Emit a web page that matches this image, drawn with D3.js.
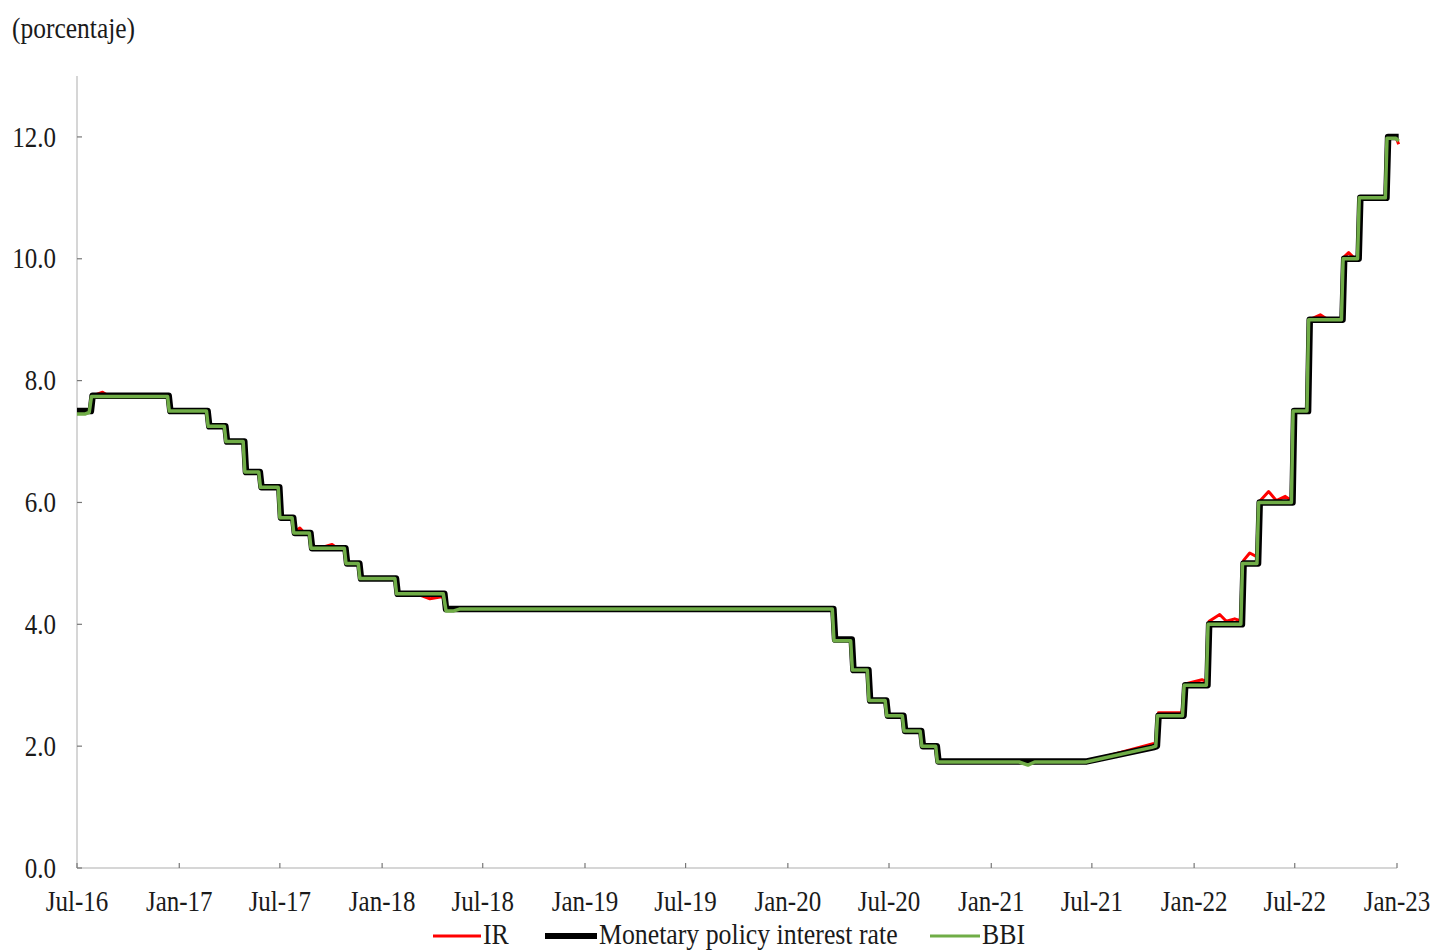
<!DOCTYPE html>
<html>
<head>
<meta charset="utf-8">
<script src="https://cdn.jsdelivr.net/npm/d3@7"></script>
<style>
  html, body { margin: 0; padding: 0; background: #fff; }
  svg { display: block; }
  text { font-family: "Liberation Serif", "Times New Roman", serif; fill: #1a1a1a; }
</style>
</head>
<body>
<svg id="chart" width="1433" height="952"></svg>
<script>
// ---------------- DATA ----------------
const unitLabel = "(porcentaje)";
const seriesNames = ["IR", "Monetary policy interest rate", "BBI"];
const yTickValues = [0, 2, 4, 6, 8, 10, 12];
const xTickLabels = ["Jul-16","Jan-17","Jul-17","Jan-18","Jul-18","Jan-19","Jul-19","Jan-20","Jul-20","Jan-21","Jul-21","Jan-22","Jul-22","Jan-23"];

// Monetary policy interest rate (date, %)
const policyRate = [
  ["2016-07-01",7.50],["2016-07-26",7.50],["2016-07-29",7.75],
  ["2016-12-13",7.75],["2016-12-16",7.50],
  ["2017-02-21",7.50],["2017-02-24",7.25],
  ["2017-03-25",7.25],["2017-03-28",7.00],
  ["2017-04-28",7.00],["2017-05-01",6.50],
  ["2017-05-26",6.50],["2017-05-29",6.25],
  ["2017-06-30",6.25],["2017-07-03",5.75],
  ["2017-07-25",5.75],["2017-07-28",5.50],
  ["2017-08-25",5.50],["2017-08-28",5.25],
  ["2017-10-27",5.25],["2017-10-30",5.00],
  ["2017-11-21",5.00],["2017-11-24",4.75],
  ["2018-01-26",4.75],["2018-01-29",4.50],
  ["2018-04-23",4.50],["2018-04-26",4.25],
  ["2020-03-23",4.25],["2020-03-26",3.75],
  ["2020-04-25",3.75],["2020-04-28",3.25],
  ["2020-05-25",3.25],["2020-05-28",2.75],
  ["2020-06-26",2.75],["2020-06-29",2.50],
  ["2020-07-27",2.50],["2020-07-30",2.25],
  ["2020-08-28",2.25],["2020-08-31",2.00],
  ["2020-09-25",2.00],["2020-09-28",1.75],
  ["2021-06-22",1.75],
  ["2021-10-19",1.98],
  ["2021-10-26",2.00],["2021-10-29",2.50],
  ["2021-12-13",2.50],["2021-12-16",3.00],
  ["2022-01-25",3.00],["2022-01-28",4.00],
  ["2022-03-28",4.00],["2022-03-31",5.00],
  ["2022-04-26",5.00],["2022-04-29",6.00],
  ["2022-06-27",6.00],["2022-06-30",7.50],
  ["2022-07-25",7.50],["2022-07-28",9.00],
  ["2022-09-25",9.00],["2022-09-28",10.00],
  ["2022-10-24",10.00],["2022-10-27",11.00],
  ["2022-12-13",11.00],["2022-12-16",12.00],
  ["2023-01-04",12.00]
];

// IR (date, %)
const irRate = [
  ["2016-07-01",7.50],["2016-07-26",7.50],["2016-07-29",7.75],
  ["2016-08-16",7.81],["2016-08-26",7.75],
  ["2016-12-13",7.75],["2016-12-16",7.50],
  ["2017-02-21",7.50],["2017-02-24",7.25],
  ["2017-03-25",7.25],["2017-03-28",7.00],
  ["2017-04-28",7.00],["2017-05-01",6.50],
  ["2017-05-26",6.50],["2017-05-29",6.25],
  ["2017-06-30",6.25],["2017-07-03",5.75],
  ["2017-07-25",5.75],["2017-07-28",5.52],
  ["2017-08-06",5.58],["2017-08-14",5.50],
  ["2017-08-25",5.50],["2017-08-28",5.30],
  ["2017-09-10",5.25],["2017-10-03",5.31],["2017-10-12",5.25],
  ["2017-10-27",5.25],["2017-10-30",5.00],
  ["2017-11-21",5.00],["2017-11-24",4.75],
  ["2018-01-26",4.75],["2018-01-29",4.50],
  ["2018-03-10",4.48],["2018-03-28",4.42],["2018-04-18",4.45],
  ["2018-04-23",4.45],["2018-04-26",4.25],
  ["2020-03-23",4.25],["2020-03-26",3.75],
  ["2020-04-25",3.75],["2020-04-28",3.25],
  ["2020-05-25",3.25],["2020-05-28",2.75],
  ["2020-06-26",2.75],["2020-06-29",2.50],
  ["2020-07-27",2.50],["2020-07-30",2.25],
  ["2020-08-28",2.25],["2020-08-31",2.00],
  ["2020-09-25",2.00],["2020-09-28",1.75],
  ["2021-06-22",1.75],
  ["2021-10-19",2.04],
  ["2021-10-26",2.03],["2021-10-29",2.55],
  ["2021-12-10",2.55],["2021-12-16",3.02],
  ["2022-01-15",3.09],["2022-01-25",3.05],["2022-01-28",4.05],
  ["2022-02-16",4.16],["2022-02-28",4.05],["2022-03-15",4.09],
  ["2022-03-28",4.05],["2022-03-31",5.05],
  ["2022-04-11",5.17],["2022-04-26",5.10],["2022-04-29",6.02],
  ["2022-05-15",6.18],["2022-05-29",6.03],["2022-06-14",6.10],
  ["2022-06-27",6.02],["2022-06-30",7.50],
  ["2022-07-25",7.50],["2022-07-28",9.00],
  ["2022-08-16",9.08],["2022-08-30",9.00],
  ["2022-09-25",9.00],["2022-09-28",10.03],
  ["2022-10-06",10.10],["2022-10-15",10.02],
  ["2022-10-24",10.02],["2022-10-27",11.00],
  ["2022-12-13",11.00],["2022-12-16",12.00],
  ["2022-12-30",12.00],["2023-01-04",11.88]
];

// BBI (date, %)
const bbiRate = [
  ["2016-07-01",7.45],["2016-07-15",7.45],["2016-07-23",7.48],["2016-07-27",7.74],
  ["2016-12-11",7.74],["2016-12-14",7.50],
  ["2017-02-19",7.50],["2017-02-22",7.25],
  ["2017-03-23",7.25],["2017-03-26",7.00],
  ["2017-04-26",7.00],["2017-04-29",6.50],
  ["2017-05-24",6.50],["2017-05-27",6.25],
  ["2017-06-28",6.25],["2017-07-01",5.75],
  ["2017-07-23",5.75],["2017-07-26",5.50],
  ["2017-08-23",5.50],["2017-08-26",5.25],
  ["2017-10-25",5.25],["2017-10-28",5.00],
  ["2017-11-19",5.00],["2017-11-22",4.75],
  ["2018-01-24",4.75],["2018-01-27",4.50],
  ["2018-04-21",4.50],["2018-04-26",4.22],["2018-05-10",4.22],["2018-05-20",4.25],
  ["2020-03-21",4.25],["2020-03-24",3.73],
  ["2020-04-23",3.73],["2020-04-26",3.25],
  ["2020-05-23",3.25],["2020-05-26",2.75],
  ["2020-06-24",2.75],["2020-06-27",2.50],
  ["2020-07-25",2.50],["2020-07-28",2.25],
  ["2020-08-26",2.25],["2020-08-29",2.00],
  ["2020-09-23",2.00],["2020-09-26",1.74],
  ["2021-02-20",1.74],["2021-03-08",1.69],["2021-03-20",1.74],
  ["2021-06-20",1.74],
  ["2021-10-17",1.98],
  ["2021-10-24",2.00],["2021-10-27",2.50],
  ["2021-12-11",2.50],["2021-12-14",3.00],
  ["2022-01-23",3.00],["2022-01-26",4.00],
  ["2022-03-26",4.00],["2022-03-29",5.00],
  ["2022-04-24",5.00],["2022-04-27",6.00],
  ["2022-06-25",6.00],["2022-06-28",7.50],
  ["2022-07-23",7.50],["2022-07-26",9.00],
  ["2022-09-23",9.00],["2022-09-26",10.00],
  ["2022-10-22",10.00],["2022-10-25",11.00],
  ["2022-12-11",11.00],["2022-12-14",11.98],
  ["2022-12-30",11.98],["2023-01-04",11.93]
];

const seriesColors = ["#ff0000", "#000000", "#70ad47"];
const seriesWidths = [3, 6.5, 3.5];

// ---------------- CHART ----------------
const parse = d3.timeParse("%Y-%m-%d");
const svg = d3.select("#chart");
const plot = { left: 77, right: 1397, top: 76, bottom: 868 };
const TXT_SCALE = 1.18;
const FONT = 25;
const LEGEND_Y = 935;

const x = d3.scaleTime()
  .domain([new Date(2016, 6, 1), new Date(2023, 0, 1)])
  .range([plot.left, plot.right]);
const y = d3.scaleLinear()
  .domain([0, 13])
  .range([plot.bottom, plot.top]);

function stretchedText(sel, tx, ty) {
  return sel.attr("transform", (d, i) => `translate(${tx(d, i)},${ty(d, i)}) scale(1,${TXT_SCALE})`);
}

// unit label
svg.append("text")
  .attr("transform", `translate(12,28) scale(1,${TXT_SCALE})`)
  .attr("dominant-baseline", "central")
  .style("font-size", "25.5px")
  .text(unitLabel);

// axes lines
svg.append("line")
  .attr("x1", plot.left).attr("x2", plot.left)
  .attr("y1", plot.top).attr("y2", plot.bottom)
  .attr("stroke", "#c8c8c8").attr("stroke-width", 1.5);
svg.append("line")
  .attr("x1", plot.left).attr("x2", plot.right)
  .attr("y1", plot.bottom).attr("y2", plot.bottom)
  .attr("stroke", "#c8c8c8").attr("stroke-width", 1.5);

// y ticks (inside)
svg.append("g").selectAll("line").data(yTickValues).join("line")
  .attr("x1", plot.left).attr("x2", plot.left + 5)
  .attr("y1", d => y(d)).attr("y2", d => y(d))
  .attr("stroke", "#777").attr("stroke-width", 1.2);
const fmt = d3.format(".1f");
stretchedText(
  svg.append("g").selectAll("text").data(yTickValues).join("text")
    .attr("text-anchor", "end")
    .attr("dominant-baseline", "central")
    .style("font-size", FONT + "px")
    .text(d => fmt(d)),
  () => 56, d => y(d));

// x ticks (inside)
const xTickDates = x.ticks(d3.timeMonth.every(6));
const xFmt = d3.timeFormat("%b-%y");
svg.append("g").selectAll("line").data(xTickDates).join("line")
  .attr("x1", d => x(d)).attr("x2", d => x(d))
  .attr("y1", plot.bottom).attr("y2", plot.bottom - 5)
  .attr("stroke", "#777").attr("stroke-width", 1.2);
stretchedText(
  svg.append("g").selectAll("text").data(xTickDates).join("text")
    .attr("text-anchor", "middle")
    .attr("dominant-baseline", "central")
    .style("font-size", FONT + "px")
    .text((d, i) => xTickLabels[i] || xFmt(d)),
  d => x(d), () => 901);

// lines
const lineGen = d3.line()
  .x(d => x(parse(d[0])))
  .y(d => y(d[1]))
  .curve(d3.curveLinear);

const allSeries = [irRate, policyRate, bbiRate];
allSeries.forEach((s, i) => {
  svg.append("path")
    .datum(s)
    .attr("d", lineGen)
    .attr("fill", "none")
    .attr("stroke", seriesColors[i])
    .attr("stroke-width", seriesWidths[i])
    .attr("stroke-linejoin", "round")
    .attr("stroke-linecap", "butt");
});

// legend
const legendItems = [
  { name: seriesNames[0], x0: 433, x1: 481 },
  { name: seriesNames[1], x0: 545, x1: 597 },
  { name: seriesNames[2], x0: 930, x1: 980 }
];
const lg = svg.append("g");
legendItems.forEach((it, i) => {
  lg.append("line")
    .attr("x1", it.x0).attr("x2", it.x1)
    .attr("y1", LEGEND_Y + 1).attr("y2", LEGEND_Y + 1)
    .attr("stroke", seriesColors[i])
    .attr("stroke-width", i === 1 ? 6 : 3);
  lg.append("text")
    .attr("transform", `translate(${it.x1 + 2},${LEGEND_Y}) scale(1,1.1)`)
    .attr("dominant-baseline", "central")
    .style("font-size", "25.8px")
    .text(it.name);
});
</script>
</body>
</html>
